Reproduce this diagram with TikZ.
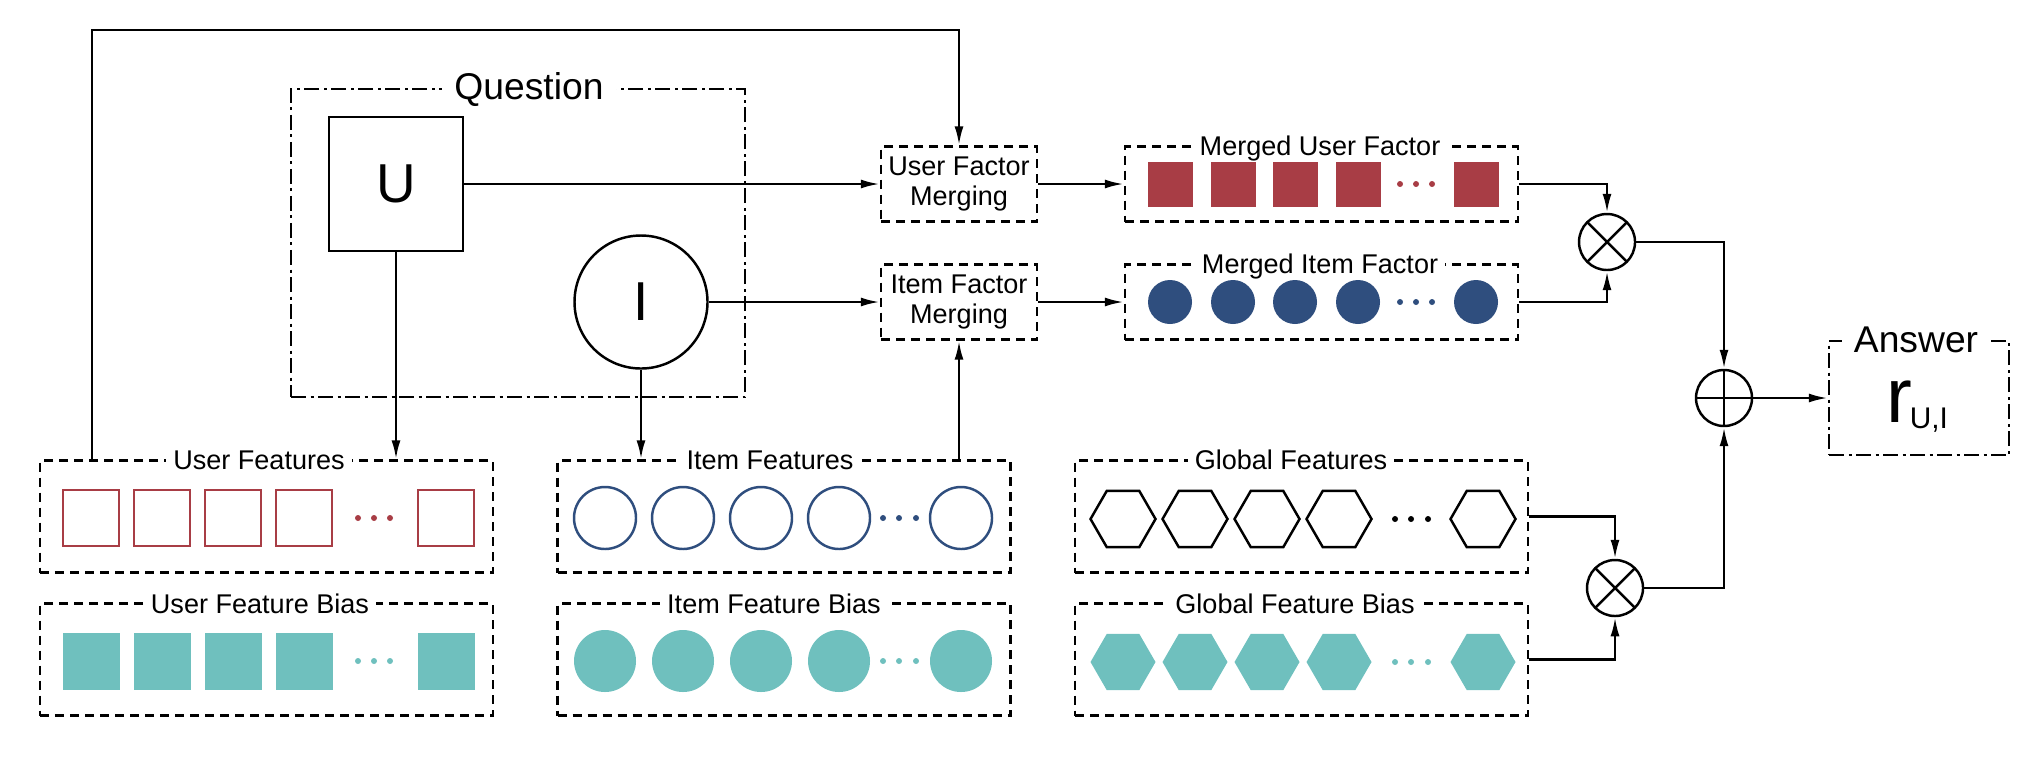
\documentclass[tikz,border=0pt]{standalone}
\usepackage{fontspec}
\setmainfont{Liberation Sans}
\usetikzlibrary{arrows.meta,shapes.geometric}

\definecolor{ured}{RGB}{168,61,69}
\definecolor{iblue}{RGB}{47,78,126}
\definecolor{bteal}{RGB}{111,192,190}

\tikzset{
  arr/.style={-{Latex[length=1.9mm,width=0.9mm]}},
  dbox/.style={draw,dash pattern=on 0.9mm off 0.6mm,inner sep=0pt},
  ddbox/.style={draw,dash pattern=on 1.5mm off 0.45mm on 0.3mm off 0.45mm,inner sep=0pt},
  lbl/.style={fill=white,inner xsep=2pt,inner ysep=0pt,text height=0.72em,text depth=0.2em,
    font=\fontsize{7.7}{8.4}\selectfont},
  biglbl/.style={fill=white,inner xsep=3.5pt,inner ysep=0pt,font=\fontsize{10.6}{12}\selectfont},
  mergebox/.style={dbox,minimum width=15.6mm,minimum height=7.5mm,align=center,
    font=\fontsize{7.7}{8.4}\selectfont},
  vecbox/.style={dbox,minimum width=39.3mm,minimum height=7.5mm},
  featbox/.style={dbox,minimum width=45.3mm,minimum height=11.2mm},
  usq/.style={draw=ured,minimum size=5.6mm,inner sep=0pt},
  bsq/.style={fill=bteal,minimum size=5.7mm,inner sep=0pt},
  icirc/.style={circle,draw=iblue,minimum size=6.2mm,inner sep=0pt},
  bcirc/.style={circle,fill=bteal,minimum size=6.2mm,inner sep=0pt},
  ghex/.style={regular polygon,regular polygon sides=6,draw,minimum size=6.5mm,inner sep=0pt},
  bhex/.style={regular polygon,regular polygon sides=6,fill=bteal,minimum size=6.5mm,inner sep=0pt},
  musq/.style={fill=ured,minimum size=4.5mm,inner sep=0pt},
  micirc/.style={circle,fill=iblue,minimum size=4.4mm,inner sep=0pt},
  mulop/.style={circle,draw,minimum size=5.6mm,inner sep=0pt,
    path picture={\draw (path picture bounding box.north west) -- (path picture bounding box.south east)
      (path picture bounding box.north east) -- (path picture bounding box.south west);}},
  addop/.style={circle,draw,minimum size=5.6mm,inner sep=0pt,
    path picture={\draw (path picture bounding box.north) -- (path picture bounding box.south)
      (path picture bounding box.west) -- (path picture bounding box.east);}}
}

\begin{document}
\begin{tikzpicture}[x=1mm,y=-1mm,line width=0.7pt]
  \useasboundingbox (0,0) rectangle (204,75.6);

  % question
  \node[ddbox,minimum width=45.4mm,minimum height=30.8mm] (q) at (51.8,24.3) {};
  \node[biglbl] (qlbl) at (52.9,8.95) {Question};
  \node[draw,minimum size=13.4mm,inner sep=0pt,font=\fontsize{15.6}{16}\selectfont] (u) at (39.6,18.4) {U};
  \node[draw,circle,minimum size=13.3mm,inner sep=0pt,font=\fontsize{15.6}{16}\selectfont] (i) at (64.1,30.2) {I};

  % merging
  \node[mergebox] (ufm) at (95.9,18.4) {User Factor\\Merging};
  \node[mergebox] (ifm) at (95.9,30.2) {Item Factor\\Merging};

  % merged factors
  \node[vecbox] (muf) at (132.15,18.4) {};
  \node[lbl] (muflbl) at (132.0,14.65) {Merged User Factor};
  \node[vecbox] (mif) at (132.15,30.2) {};
  \node[lbl] (miflbl) at (132.0,26.45) {Merged Item Factor};
  \foreach \x [count=\n] in {117.0,123.3,129.5,135.8,147.6} {
    \node[musq] (mu\n) at (\x,18.4) {};
    \node[micirc] (mi\n) at (\x,30.2) {};
  }
  \foreach \x in {140.0,141.6,143.2} {
    \fill[ured] (\x,18.4) circle (0.3mm);
    \fill[iblue] (\x,30.2) circle (0.3mm);
  }

  % user features
  \node[featbox] (uf) at (26.65,51.65) {};
  \node[lbl] (uflbl) at (25.9,46.0) {User Features};
  \node[featbox] (ufb) at (26.65,65.95) {};
  \node[lbl] (ufblbl) at (26.0,60.4) {User Feature Bias};
  \foreach \x [count=\n] in {9.1,16.2,23.3,30.4,44.6} {
    \node[usq] (us\n) at (\x,51.8) {};
    \node[bsq] (ub\n) at (\x,66.1) {};
  }
  \foreach \x in {35.8,37.4,39.0} {
    \fill[ured] (\x,51.8) circle (0.3mm);
    \fill[bteal] (\x,66.1) circle (0.3mm);
  }

  % item features
  \node[featbox] (if) at (78.4,51.65) {};
  \node[lbl] (iflbl) at (77.0,46.0) {Item Features};
  \node[featbox] (ifb) at (78.4,65.95) {};
  \node[lbl] (ifblbl) at (77.4,60.4) {Item Feature Bias};
  \foreach \x [count=\n] in {60.5,68.3,76.1,83.9,96.1} {
    \node[icirc] (ic\n) at (\x,51.8) {};
    \node[bcirc] (ib\n) at (\x,66.1) {};
  }
  \foreach \x in {88.3,89.9,91.6} {
    \fill[iblue] (\x,51.8) circle (0.3mm);
    \fill[bteal] (\x,66.1) circle (0.3mm);
  }

  % global features
  \node[featbox] (gf) at (130.15,51.65) {};
  \node[lbl] (gflbl) at (129.1,46.0) {Global Features};
  \node[featbox] (gfb) at (130.15,65.95) {};
  \node[lbl] (gfblbl) at (129.5,60.4) {Global Feature Bias};
  \foreach \x [count=\n] in {112.3,119.5,126.7,133.9,148.3} {
    \node[ghex] (gh\n) at (\x,51.9) {};
    \node[bhex] (gb\n) at (\x,66.2) {};
  }
  \foreach \x in {139.5,141.1,142.8} {
    \fill (\x,51.9) circle (0.3mm);
    \fill[bteal] (\x,66.2) circle (0.3mm);
  }

  % operators and answer
  \node[mulop] (m1) at (160.7,24.2) {};
  \node[mulop] (m2) at (161.5,58.8) {};
  \node[addop] (add) at (172.4,39.8) {};
  \node[ddbox,minimum width=18.0mm,minimum height=11.4mm] (ans) at (191.9,39.8) {};
  \node[inner sep=0pt] (rui) at (191.7,40.7)
    {{\fontsize{22}{22}\selectfont r}\kern-0.2mm\raisebox{-0.6mm}{\fontsize{8.5}{9}\selectfont U,I}};
  \node[biglbl] (anslbl) at (191.6,34.0) {Answer};

  % connectors
  \coordinate (fb) at (9.2,3.0);
  \draw[arr] (uf.north -| fb) -- (fb) -| (ufm.north);
  \draw[arr] (u.east) -- (u.east -| ufm.west);
  \draw[arr] (i.east) -- (i.east -| ifm.west);
  \draw[arr] (u.south) -- (u.south |- uf.north);
  \draw[arr] (i.south) -- (i.south |- if.north);
  \draw[arr] (ifm.south |- if.north) -- (ifm.south);
  \draw[arr] (ufm.east) -- (muf.west);
  \draw[arr] (ifm.east) -- (mif.west);
  \draw[arr] (muf.east) -| (m1.north);
  \draw[arr] (mif.east) -| (m1.south);
  \draw[arr] (gf.east) -| (m2.north);
  \draw[arr] (gfb.east) -| (m2.south);
  \draw[arr] (m1.east) -| (add.north);
  \draw[arr] (m2.east) -| (add.south);
  \draw[arr] (add.east) -- (ans.west);
\end{tikzpicture}
\end{document}
